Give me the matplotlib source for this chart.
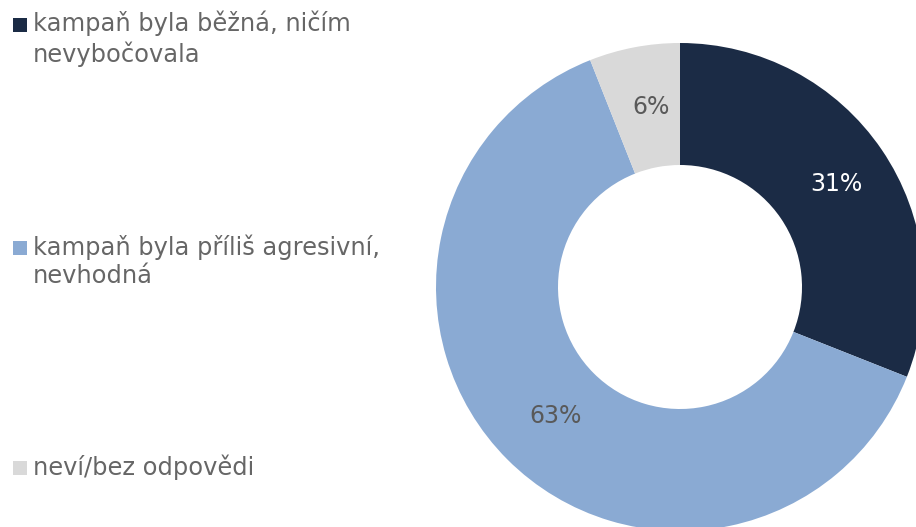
import matplotlib.pyplot as plt
from matplotlib.patches import Rectangle
import numpy as np

# data
labels = ["kampaň byla běžná, ničím\nnevybočovala",
          "kampaň byla příliš agresivní,\nnevhodná",
          "neví/bez odpovědi"]
values = [31, 63, 6]
colors = ["#1b2b45", "#8aaad3", "#d9d9d9"]
pct_colors = ["white", "#595959", "#595959"]

plt.rcParams['font.family'] = ['DejaVu Sans']
text_gray = "#666666"

fig = plt.figure(figsize=(9.16, 5.27), dpi=100)

# donut axes, center at (680, 287) px, radius 244 px
W, H = 916, 527
cx, cy, r = 680, 287, 244
ax = fig.add_axes([(cx - r) / W, (H - cy - r) / H, 2 * r / W, 2 * r / H])
wedges, _ = ax.pie(values, colors=colors, startangle=90, counterclock=False,
                   radius=1, wedgeprops=dict(width=0.5, linewidth=0))
ax.set_xlim(-1, 1)
ax.set_ylim(-1, 1)
ax.set_aspect('equal')
ax.axis('off')

# percentage labels in the middle of the ring
start = 90.0
total = sum(values)
for v, c in zip(values, pct_colors):
    mid = start - v / total * 360 / 2
    start -= v / total * 360
    x = 0.75 * np.cos(np.radians(mid))
    y = 0.75 * np.sin(np.radians(mid))
    ax.text(x + 0.02, y, f"{v}%", ha='center', va='center', color=c, fontsize=17)

# manual legend on the left
legend_y = [25, 248, 468]  # px of first text line centre
for lab, col, ypx in zip(labels, colors, legend_y):
    fig.add_artist(Rectangle((13 / W, (H - ypx - 7) / H), 14 / W, 14 / H,
                             transform=fig.transFigure, color=col, lw=0))
    fig.text(33 / W, (H - ypx + 14) / H, lab, ha='left', va='top',
             fontsize=17.4, color=text_gray, linespacing=1.22)

fig.savefig("out.png", dpi=100)
